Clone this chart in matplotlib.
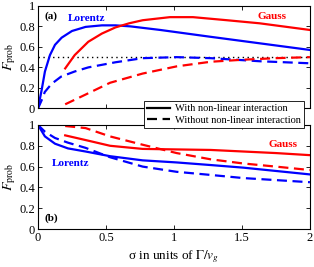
import numpy as np
import matplotlib
matplotlib.use("Agg")
import matplotlib.pyplot as plt
from matplotlib.lines import Line2D

plt.rcParams['font.family'] = ['Liberation Serif', 'DejaVu Serif']
plt.rcParams['mathtext.fontset'] = 'stix'

# top panel (a)
sig_lor_a = [0, 0.027, 0.051, 0.088, 0.125, 0.174, 0.25, 0.35, 0.47, 0.57, 0.68, 0.9, 1.26, 1.63, 2.0]
lor_with_a = [0, 0.18, 0.36, 0.52, 0.62, 0.69, 0.755, 0.795, 0.81, 0.81, 0.80, 0.765, 0.70, 0.635, 0.57]
sig_lor_a_d = [0, 0.027, 0.05, 0.1, 0.17, 0.27, 0.37, 0.47, 0.57, 0.77, 1.02, 1.27, 1.63, 2.0]
lor_without_a = [0, 0.08, 0.16, 0.24, 0.31, 0.36, 0.40, 0.425, 0.45, 0.49, 0.50, 0.49, 0.46, 0.44]
sig_gau_a = [0.2, 0.27, 0.37, 0.47, 0.57, 0.67, 0.77, 0.97, 1.14, 1.39, 1.63, 2.0]
gau_with_a = [0.39, 0.52, 0.65, 0.73, 0.79, 0.83, 0.86, 0.89, 0.89, 0.86, 0.83, 0.765]
sig_gau_a_d = [0.2, 0.35, 0.53, 0.77, 1.02, 1.27, 1.51, 1.75, 2.0]
gau_without_a = [0.04, 0.135, 0.25, 0.34, 0.41, 0.455, 0.475, 0.49, 0.50]

# bottom panel (b)
sig_lor_b = [0, 0.051, 0.125, 0.22, 0.35, 0.53, 0.77, 1.02, 1.27, 1.51, 2.0]
lor_with_b = [1.0, 0.89, 0.82, 0.775, 0.745, 0.70, 0.66, 0.64, 0.615, 0.59, 0.525]
lor_without_b = [1.0, 0.935, 0.875, 0.83, 0.78, 0.69, 0.60, 0.55, 0.52, 0.49, 0.45]
sig_gau_b = [0.2, 0.35, 0.53, 0.77, 1.02, 1.27, 1.51, 1.75, 2.0]
gau_with_b = [0.90, 0.855, 0.80, 0.77, 0.765, 0.76, 0.745, 0.73, 0.71]
gau_without_b = [0.99, 0.97, 0.89, 0.81, 0.73, 0.67, 0.63, 0.60, 0.567]

xticks = [0, 0.5, 1, 1.5, 2]
xticklabels = ['0', '0.5', '1', '1.5', '2']
yticks = [0, 0.2, 0.4, 0.6, 0.8, 1]
yticklabels = ['0', '0.2', '0.4', '0.6', '0.8', '1']

fig = plt.figure(figsize=(3.14, 2.67), dpi=100)
axa = fig.add_axes([0.121, 0.594, 0.866, 0.384])
axb = fig.add_axes([0.121, 0.142, 0.866, 0.390])

lw = 1.6
dash = (0, (4.5, 2.5))

for ax in (axa, axb):
    ax.set_xlim(0, 2)
    ax.set_ylim(0, 1)
    ax.set_xticks(xticks)
    ax.set_yticks(yticks)
    ax.set_yticklabels(yticklabels)
    ax.tick_params(direction='in', length=3, width=0.6, labelsize=9, top=True, right=True, pad=2)
    ax.set_ylabel(r'$F_{\rm prob}$', fontsize=10, labelpad=1)
    for s in ax.spines.values():
        s.set_linewidth(0.8)

axa.set_xticklabels([])
axb.set_xticklabels(xticklabels)
axb.set_xlabel(r'σ in units of $\Gamma/v_g$', fontsize=9.5, labelpad=3)

axa.axhline(0.5, color='black', ls=(0, (1, 2.5)), lw=1.0)
axa.plot(sig_lor_a, lor_with_a, color='blue', lw=lw)
axa.plot(sig_lor_a_d, lor_without_a, color='blue', lw=lw, ls=dash)
axa.plot(sig_gau_a, gau_with_a, color='red', lw=lw)
axa.plot(sig_gau_a_d, gau_without_a, color='red', lw=lw, ls=dash)

axb.plot(sig_lor_b, lor_with_b, color='blue', lw=lw)
axb.plot(sig_lor_b, lor_without_b, color='blue', lw=lw, ls=dash)
axb.plot(sig_gau_b, gau_with_b, color='red', lw=lw)
axb.plot(sig_gau_b, gau_without_b, color='red', lw=lw, ls=dash)

axa.text(0.045, 0.9, '(a)', fontsize=8, fontweight='bold', va='center')
axa.text(0.36, 0.88, 'Lorentz', fontsize=8, fontweight='bold', color='blue', ha='center', va='center')
axa.text(1.72, 0.895, 'Gauss', fontsize=8, fontweight='bold', color='red', ha='center', va='center')
axb.text(0.045, 0.1, '(b)', fontsize=8, fontweight='bold', va='center')
axb.text(0.24, 0.63, 'Lorentz', fontsize=8, fontweight='bold', color='blue', ha='center', va='center')
axb.text(1.8, 0.81, 'Gauss', fontsize=8, fontweight='bold', color='red', ha='center', va='center')

handles = [Line2D([], [], color='black', lw=lw),
           Line2D([], [], color='black', lw=lw, ls=dash)]
leg = fig.legend(handles, ['With non-linear interaction', 'Without non-linear interaction'],
                 loc='upper right', bbox_to_anchor=(0.968, 0.622), fontsize=7.5,
                 frameon=True, fancybox=False, edgecolor='black', framealpha=1,
                 handlelength=2.2, handletextpad=0.5, borderpad=0.3, labelspacing=0.2,
                 borderaxespad=0)
leg.get_frame().set_linewidth(0.6)

fig.savefig('out.png', dpi=100)
